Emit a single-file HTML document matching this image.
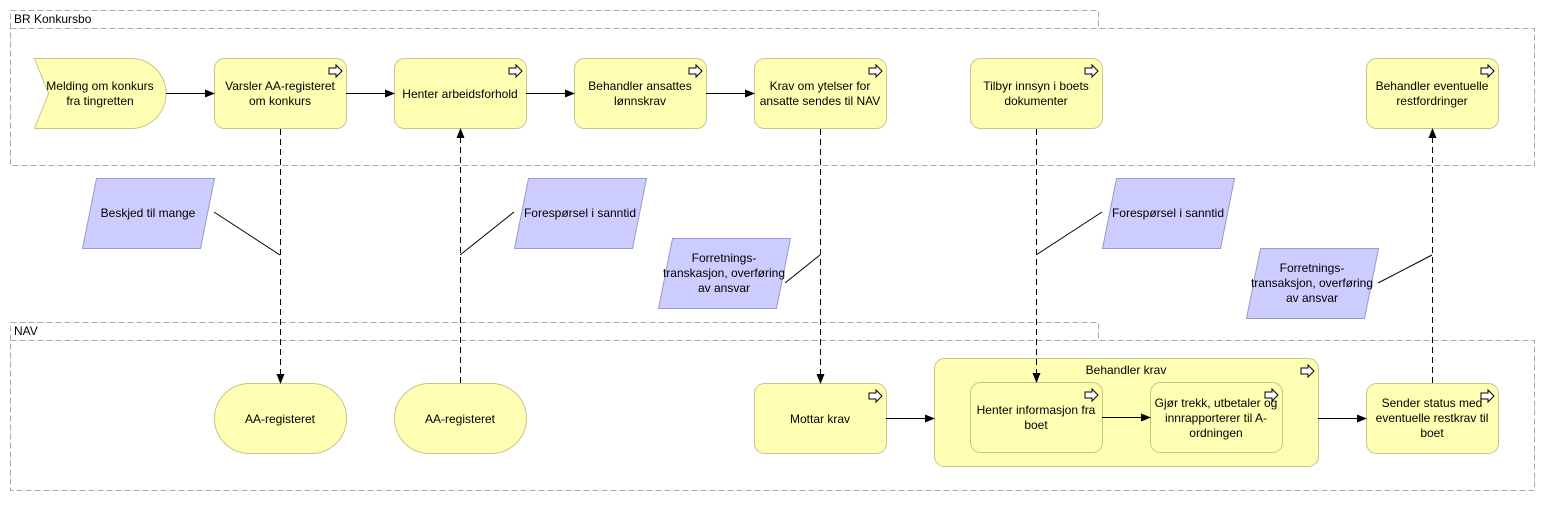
<!DOCTYPE html>
<html><head><meta charset="utf-8"><style>
body{margin:0;background:#fff}
svg text{font-family:"Liberation Sans",sans-serif;font-size:12px;fill:#000}
</style></head><body>
<svg width="1545" height="501" viewBox="0 0 1545 501" xmlns="http://www.w3.org/2000/svg">
<defs>
<marker id="ah" markerWidth="10" markerHeight="8" refX="9" refY="4" orient="auto" markerUnits="userSpaceOnUse">
<path d="M0,0 L10,4 L0,8 z" fill="#000"/></marker>
<g id="ic"><path d="M0,-3 h7 v-3 l6,6 l-6,6 v-3 h-7 z" fill="#fff" stroke="#000" stroke-width="1"/></g>
</defs>
<g fill="none" stroke="#aaa" stroke-dasharray="6,3" stroke-width="1">
<path d="M10.5,28.5 V10.5 H1098.5 V28.5"/>
<rect x="10.5" y="28.5" width="1524" height="137"/>
<path d="M10.5,340.5 V322.5 H1098.5 V340.5"/>
<rect x="10.5" y="340.5" width="1524" height="150"/>
</g>
<text x="14" y="23">BR Konkursbo</text>
<text x="14" y="335">NAV</text>

<g fill="#ffffb4" stroke="#c8c48a" stroke-width="1">
<path d="M34.5,58.5 H131 A35,35 0 0 1 131,128.5 H34.5 L48.5,93.5 Z"/>
<rect x="214.5" y="58.5" width="132" height="70" rx="10"/>
<rect x="394.5" y="58.5" width="132" height="70" rx="10"/>
<rect x="574.5" y="58.5" width="132" height="70" rx="10"/>
<rect x="754.5" y="58.5" width="132" height="70" rx="10"/>
<rect x="970.5" y="58.5" width="132" height="70" rx="10"/>
<rect x="1366.5" y="58.5" width="132" height="70" rx="10"/>
<rect x="214.5" y="383.5" width="132" height="70" rx="35"/>
<rect x="394.5" y="383.5" width="132" height="70" rx="35"/>
<rect x="754.5" y="383.5" width="132" height="70" rx="10"/>
<rect x="934.5" y="358.5" width="384" height="108" rx="10"/>
<rect x="970.5" y="382.5" width="132" height="70" rx="10"/>
<rect x="1150.5" y="382.5" width="132" height="70" rx="10"/>
<rect x="1366.5" y="383.5" width="132" height="70" rx="10"/>
</g>
<g fill="#ccccff" stroke="#9a9acc" stroke-width="1">
<path d="M96.5,178.5 H214.5 L200.5,248.5 H82.5 Z"/>
<path d="M528.5,178.5 H646.5 L632.5,248.5 H514.5 Z"/>
<path d="M672.5,238.5 H790.5 L776.5,308.5 H658.5 Z"/>
<path d="M1116.5,178.5 H1234.5 L1220.5,248.5 H1102.5 Z"/>
<path d="M1260.5,248.5 H1378.5 L1364.5,318.5 H1246.5 Z"/>
</g>
<g>
<use href="#ic" x="329" y="71"/><use href="#ic" x="509" y="71"/><use href="#ic" x="689" y="71"/>
<use href="#ic" x="869" y="71"/><use href="#ic" x="1085" y="71"/><use href="#ic" x="1481" y="71"/>
<use href="#ic" x="869" y="396"/><use href="#ic" x="1301" y="371"/><use href="#ic" x="1085" y="395"/>
<use href="#ic" x="1265" y="395"/><use href="#ic" x="1481" y="396"/>
</g>
<g stroke="#000" stroke-width="1" fill="none">
<line x1="166" y1="93.5" x2="214" y2="93.5" marker-end="url(#ah)"/>
<line x1="346" y1="93.5" x2="394" y2="93.5" marker-end="url(#ah)"/>
<line x1="526" y1="93.5" x2="574" y2="93.5" marker-end="url(#ah)"/>
<line x1="706" y1="93.5" x2="754" y2="93.5" marker-end="url(#ah)"/>
<line x1="886" y1="418.5" x2="934" y2="418.5" marker-end="url(#ah)"/>
<line x1="1102" y1="417.5" x2="1150" y2="417.5" marker-end="url(#ah)"/>
<line x1="1318" y1="418.5" x2="1366" y2="418.5" marker-end="url(#ah)"/>
<g stroke-dasharray="6,4">
<line x1="280.5" y1="129" x2="280.5" y2="383" marker-end="url(#ah)"/>
<line x1="460.5" y1="383" x2="460.5" y2="129" marker-end="url(#ah)"/>
<line x1="820.5" y1="129" x2="820.5" y2="383" marker-end="url(#ah)"/>
<line x1="1036.5" y1="129" x2="1036.5" y2="382" marker-end="url(#ah)"/>
<line x1="1432.5" y1="383" x2="1432.5" y2="129" marker-end="url(#ah)"/>
</g>
<line x1="214" y1="212" x2="280" y2="255"/>
<line x1="514" y1="212" x2="460" y2="255"/>
<line x1="785" y1="283" x2="820" y2="255"/>
<line x1="1102" y1="212" x2="1036" y2="255"/>
<line x1="1378" y1="283" x2="1432" y2="255"/>
</g>
<g text-anchor="middle">
<text x="100" y="90">Melding om konkurs</text><text x="100" y="105">fra tingretten</text>
<text x="280" y="90">Varsler AA-registeret</text><text x="280" y="105">om konkurs</text>
<text x="460" y="98">Henter arbeidsforhold</text>
<text x="640" y="90">Behandler ansattes</text><text x="640" y="105">lønnskrav</text>
<text x="820" y="90">Krav om ytelser for</text><text x="820" y="105">ansatte sendes til NAV</text>
<text x="1036" y="90">Tilbyr innsyn i boets</text><text x="1036" y="105">dokumenter</text>
<text x="1432" y="90">Behandler eventuelle</text><text x="1432" y="105">restfordringer</text>
<text x="148" y="217">Beskjed til mange</text>
<text x="580" y="217">Forespørsel i sanntid</text>
<text x="724" y="262">Forretnings-</text><text x="724" y="277">transkasjon, overføring</text><text x="724" y="292">av ansvar</text>
<text x="1168" y="217">Forespørsel i sanntid</text>
<text x="1312" y="272">Forretnings-</text><text x="1312" y="287">transaksjon, overføring</text><text x="1312" y="302">av ansvar</text>
<text x="280" y="423">AA-registeret</text>
<text x="460" y="423">AA-registeret</text>
<text x="820" y="423">Mottar krav</text>
<text x="1126" y="374">Behandler krav</text>
<text x="1036" y="414">Henter informasjon fra</text><text x="1036" y="429">boet</text>
<text x="1216" y="407">Gjør trekk, utbetaler og</text><text x="1216" y="422">innrapporterer til A-</text><text x="1216" y="437">ordningen</text>
<text x="1432" y="407">Sender status med</text><text x="1432" y="422">eventuelle restkrav til</text><text x="1432" y="437">boet</text>
</g>
</svg>
</body></html>
